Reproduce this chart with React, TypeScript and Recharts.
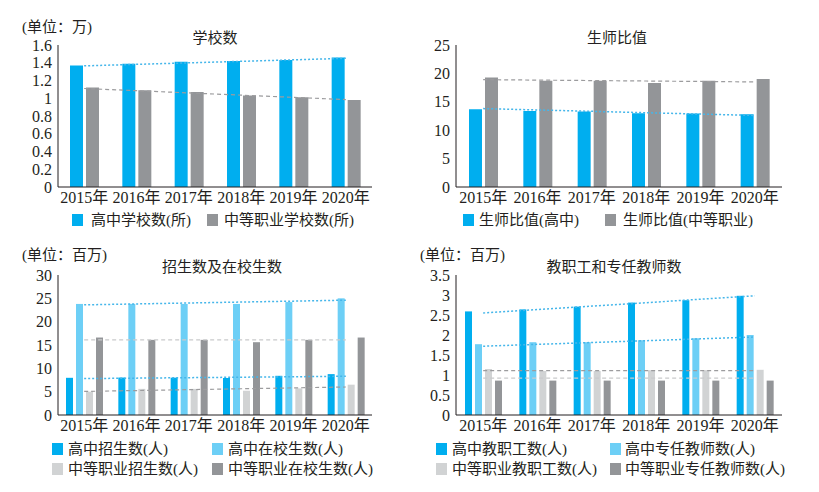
import React from 'react';
import { ComposedChart, Bar, Line, XAxis, YAxis } from 'recharts';

const years = ['2015年', '2016年', '2017年', '2018年', '2019年', '2020年'];

// 学校数 (万)
const hsSchools = [1.37, 1.39, 1.41, 1.42, 1.43, 1.46];
const vocSchools = [1.12, 1.09, 1.07, 1.03, 1.01, 0.98];
const hsSchoolsTrend = [1.365, 1.382, 1.399, 1.416, 1.433, 1.45];
const vocSchoolsTrend = [1.11, 1.085, 1.06, 1.035, 1.01, 0.985];

// 生师比值
const hsRatio = [13.7, 13.4, 13.3, 13.0, 12.95, 12.8];
const vocRatio = [19.3, 18.7, 18.7, 18.3, 18.7, 19.0];
const hsRatioTrend = [13.8, 13.56, 13.32, 13.08, 12.84, 12.6];
const vocRatioTrend = [18.9, 18.82, 18.74, 18.66, 18.58, 18.5];

// 招生数及在校生数 (百万)
const hsAdmit = [7.97, 8.03, 8.0, 7.93, 8.4, 8.76];
const hsEnrolled = [23.8, 23.8, 23.8, 23.8, 24.2, 25.0];
const vocAdmit = [5.0, 5.6, 5.6, 5.2, 5.7, 6.5];
const vocEnrolled = [16.6, 16.1, 16.1, 15.6, 16.1, 16.6];
const hsEnrolledTrend = [23.6, 23.8, 24.0, 24.2, 24.4, 24.6];
const vocEnrolledTrend = [16.1, 16.1, 16.1, 16.1, 16.1, 16.1];
const hsAdmitTrend = [7.8, 7.9, 8.0, 8.1, 8.2, 8.3];
const vocAdmitTrend = [5.05, 5.24, 5.43, 5.62, 5.81, 6.0];

// 教职工和专任教师数 (百万)
const hsStaff = [2.59, 2.64, 2.71, 2.81, 2.87, 2.98];
const hsTeachers = [1.77, 1.82, 1.82, 1.87, 1.92, 2.0];
const vocStaff = [1.15, 1.1, 1.1, 1.12, 1.12, 1.13];
const vocTeachers = [0.86, 0.86, 0.86, 0.86, 0.86, 0.86];
const hsStaffTrend = [2.55, 2.636, 2.722, 2.808, 2.894, 2.98];
const hsTeachersTrend = [1.72, 1.766, 1.812, 1.858, 1.904, 1.95];
const vocStaffTrend = [1.11, 1.11, 1.11, 1.11, 1.11, 1.11];
const vocTeachersTrend = [0.92, 0.92, 0.92, 0.92, 0.92, 0.92];

const BLUE = '#00aeef';
const LIGHT_BLUE = '#6dcff6';
const LIGHT_GRAY = '#d1d3d4';
const GRAY = '#939598';
const INK = '#231f20';
const FONT = '"Liberation Serif", "Noto Sans CJK SC", serif';

const TREND_BLUE = { color: '#45b6ea', dash: '2 2', width: 1.5 };
const TREND_GRAY = { color: '#9c9c9e', dash: '4 3', width: 1.2 };
const TREND_LIGHT = { color: '#c9cacb', dash: '4 3', width: 1.2 };

type Series = { name: string; color: string; values: number[] };
type Trend = { values: number[]; color: string; dash: string; width: number };

interface PanelProps {
  left: number;
  top: number;
  width: number;
  height: number;
  margin: { top: number; right: number; bottom: number; left: number };
  yWidth: number;
  domain: [number, number];
  ticks: number[];
  barSize: number;
  bars: Series[];
  trends: Trend[];
}

const Panel: React.FC<PanelProps> = ({ left, top, width, height, margin, yWidth, domain, ticks, barSize, bars, trends }) => {
  const data = years.map((year, i) => {
    const row: Record<string, number | string> = { year };
    bars.forEach((b, j) => (row[`b${j}`] = b.values[i]));
    trends.forEach((t, j) => (row[`t${j}`] = t.values[i]));
    return row;
  });
  return (
    <div style={{ position: 'absolute', left, top }}>
      <ComposedChart width={width} height={height} data={data} margin={margin} barSize={barSize} barGap={3}>
        <XAxis
          dataKey="year"
          interval={0}
          tickLine={false}
          tickSize={0}
          tickMargin={5}
          height={30}
          axisLine={{ stroke: INK }}
          tick={{ fill: INK, fontSize: 16, fontFamily: FONT }}
        />
        <YAxis
          type="number"
          domain={domain}
          ticks={ticks}
          interval={0}
          width={yWidth}
          tickLine={false}
          tickSize={0}
          tickMargin={6}
          axisLine={{ stroke: INK }}
          tick={{ fill: INK, fontSize: 16, fontFamily: FONT }}
        />
        {bars.map((b, j) => (
          <Bar key={`b${j}`} dataKey={`b${j}`} fill={b.color} isAnimationActive={false} />
        ))}
        {trends.map((t, j) => (
          <Line
            key={`t${j}`}
            dataKey={`t${j}`}
            type="linear"
            stroke={t.color}
            strokeWidth={t.width}
            strokeDasharray={t.dash}
            dot={false}
            activeDot={false}
            isAnimationActive={false}
          />
        ))}
      </ComposedChart>
    </div>
  );
};

const Text: React.FC<{ x: number; y: number; center?: boolean; children: React.ReactNode }> = ({ x, y, center, children }) => (
  <div
    style={{
      position: 'absolute',
      left: x,
      top: y - 10,
      lineHeight: '20px',
      fontSize: 15,
      fontFamily: FONT,
      color: INK,
      whiteSpace: 'nowrap',
      transform: center ? 'translateX(-50%)' : undefined,
    }}
  >
    {children}
  </div>
);

const LegendItem: React.FC<{ x: number; textX: number; y: number; color: string; label: string }> = ({ x, textX, y, color, label }) => (
  <>
    <div style={{ position: 'absolute', left: x, top: y - 6, width: 11, height: 12, background: color }} />
    <Text x={textX} y={y}>{label}</Text>
  </>
);

export default function App() {
  return (
    <div style={{ position: 'absolute', left: 0, top: 0, width: 819, height: 492, background: '#fff', fontFamily: FONT }}>
      <Panel
        left={0}
        top={0}
        width={410}
        height={240}
        margin={{ top: 45, right: 38, bottom: 23, left: 0 }}
        yWidth={58}
        domain={[0, 1.6]}
        ticks={[0, 0.2, 0.4, 0.6, 0.8, 1, 1.2, 1.4, 1.6]}
        barSize={13}
        bars={[
          { name: '高中学校数(所)', color: BLUE, values: hsSchools },
          { name: '中等职业学校数(所)', color: GRAY, values: vocSchools },
        ]}
        trends={[
          { values: hsSchoolsTrend, ...TREND_BLUE },
          { values: vocSchoolsTrend, ...TREND_GRAY },
        ]}
      />
      <Panel
        left={410}
        top={0}
        width={409}
        height={240}
        margin={{ top: 45, right: 37, bottom: 23, left: 0 }}
        yWidth={46}
        domain={[0, 25]}
        ticks={[0, 5, 10, 15, 20, 25]}
        barSize={13}
        bars={[
          { name: '生师比值(高中)', color: BLUE, values: hsRatio },
          { name: '生师比值(中等职业)', color: GRAY, values: vocRatio },
        ]}
        trends={[
          { values: hsRatioTrend, ...TREND_BLUE },
          { values: vocRatioTrend, ...TREND_GRAY },
        ]}
      />
      <Panel
        left={0}
        top={240}
        width={410}
        height={252}
        margin={{ top: 35, right: 38, bottom: 47, left: 0 }}
        yWidth={58}
        domain={[0, 30]}
        ticks={[0, 5, 10, 15, 20, 25, 30]}
        barSize={7}
        bars={[
          { name: '高中招生数(人)', color: BLUE, values: hsAdmit },
          { name: '高中在校生数(人)', color: LIGHT_BLUE, values: hsEnrolled },
          { name: '中等职业招生数(人)', color: LIGHT_GRAY, values: vocAdmit },
          { name: '中等职业在校生数(人)', color: GRAY, values: vocEnrolled },
        ]}
        trends={[
          { values: hsEnrolledTrend, ...TREND_BLUE },
          { values: vocEnrolledTrend, ...TREND_LIGHT },
          { values: hsAdmitTrend, ...TREND_BLUE },
          { values: vocAdmitTrend, ...TREND_GRAY },
        ]}
      />
      <Panel
        left={410}
        top={240}
        width={409}
        height={252}
        margin={{ top: 35, right: 37, bottom: 47, left: 0 }}
        yWidth={46}
        domain={[0, 3.5]}
        ticks={[0, 0.5, 1, 1.5, 2, 2.5, 3, 3.5]}
        barSize={7}
        bars={[
          { name: '高中教职工数(人)', color: BLUE, values: hsStaff },
          { name: '高中专任教师数(人)', color: LIGHT_BLUE, values: hsTeachers },
          { name: '中等职业教职工数(人)', color: LIGHT_GRAY, values: vocStaff },
          { name: '中等职业专任教师数(人)', color: GRAY, values: vocTeachers },
        ]}
        trends={[
          { values: hsStaffTrend, ...TREND_BLUE },
          { values: hsTeachersTrend, ...TREND_BLUE },
          { values: vocStaffTrend, ...TREND_GRAY },
          { values: vocTeachersTrend, ...TREND_LIGHT },
        ]}
      />

      {/* titles and units */}
      <Text x={22} y={27}>(单位：万)</Text>
      <Text x={215} y={38} center>学校数</Text>
      <Text x={617} y={38} center>生师比值</Text>
      <Text x={22} y={255}>(单位：百万)</Text>
      <Text x={222} y={267} center>招生数及在校生数</Text>
      <Text x={420} y={255}>(单位：百万)</Text>
      <Text x={614} y={267} center>教职工和专任教师数</Text>

      {/* legends */}
      <LegendItem x={72} textX={91} y={220} color={BLUE} label="高中学校数(所)" />
      <LegendItem x={207} textX={224} y={220} color={GRAY} label="中等职业学校数(所)" />
      <LegendItem x={463} textX={479} y={220} color={BLUE} label="生师比值(高中)" />
      <LegendItem x={605} textX={623} y={220} color={GRAY} label="生师比值(中等职业)" />

      <LegendItem x={52} textX={68} y={449} color={BLUE} label="高中招生数(人)" />
      <LegendItem x={212} textX={228} y={449} color={LIGHT_BLUE} label="高中在校生数(人)" />
      <LegendItem x={52} textX={68} y={469} color={LIGHT_GRAY} label="中等职业招生数(人)" />
      <LegendItem x={212} textX={228} y={469} color={GRAY} label="中等职业在校生数(人)" />

      <LegendItem x={436} textX={452} y={449} color={BLUE} label="高中教职工数(人)" />
      <LegendItem x={610} textX={625} y={449} color={LIGHT_BLUE} label="高中专任教师数(人)" />
      <LegendItem x={436} textX={452} y={469} color={LIGHT_GRAY} label="中等职业教职工数(人)" />
      <LegendItem x={610} textX={625} y={469} color={GRAY} label="中等职业专任教师数(人)" />
    </div>
  );
}
